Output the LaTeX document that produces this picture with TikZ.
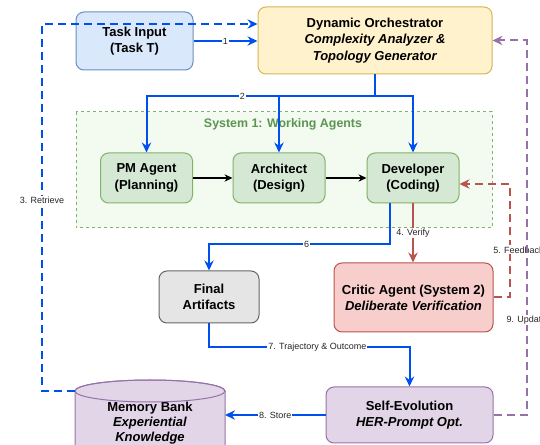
\documentclass[tikz,border=0pt]{standalone}
\usepackage{fontspec}
\setmainfont{Liberation Sans}
\usetikzlibrary{arrows.meta}

\definecolor{flowblue}{HTML}{0050EF}
\definecolor{critred}{HTML}{B85450}
\definecolor{evopurple}{HTML}{9673A6}
\definecolor{agentgreen}{HTML}{82B366}
\definecolor{titlegreen}{HTML}{5C9452}

\tikzset{
  box/.style={draw, rounded corners=6pt, line width=0.75pt, align=center, inner sep=0pt,
    font=\bfseries\fontsize{9.75}{12.2}\selectfont},
  inputbox/.style={box, fill={rgb,255:red,218;green,232;blue,252}, draw={rgb,255:red,108;green,142;blue,191}},
  orchbox/.style={box, fill={rgb,255:red,255;green,242;blue,204}, draw={rgb,255:red,214;green,182;blue,86}},
  agentbox/.style={box, fill={rgb,255:red,213;green,232;blue,212}, draw=agentgreen, minimum width=69pt, minimum height=37.5pt},
  lbl/.style={fill=white, inner sep=0.8pt, text=black!85, font=\fontsize{6.75}{8}\selectfont},
  flow/.style={draw=flowblue, line width=1.5pt, -{Stealth[length=7.5pt, width=7pt, inset=2.5pt]}},
  flowdash/.style={flow, dash pattern=on 6pt off 3.75pt},
  critflow/.style={flow, draw=critred},
  evoflow/.style={flow, draw=evopurple},
  plainflow/.style={draw=black, line width=1pt, -{Stealth[length=6pt, width=5.5pt, inset=2pt]}}
}

\begin{document}
\begin{tikzpicture}[x=0.75pt, y=-0.75pt]
  \useasboundingbox (0,0) rectangle (540,445);
  \clip (0,0) rectangle (540,445);

  % system 1 frame
  \draw[draw=agentgreen, fill={rgb,255:red,243;green,250;blue,240}, line width=0.75pt, dash pattern=on 2.25pt off 2.25pt] (76,112) rectangle (492,228);
  \node[text=titlegreen, font=\bfseries\fontsize{9.3}{11}\selectfont] (systitle) at (283,124) {System 1: Working Agents};

  % boxes
  \node[inputbox, minimum width=87.75pt, minimum height=43.5pt] (task) at (134.5,41) {Task Input\\(Task T)};
  \node[orchbox, minimum width=175.5pt, minimum height=50.25pt] (orch) at (375,40.5) {Dynamic Orchestrator\\\textit{Complexity Analyzer \&}\\\textit{Topology Generator}};
  \node[agentbox] (pm) at (146.5,178) {PM Agent\\(Planning)};
  \node[agentbox] (arch) at (279,178) {Architect\\(Design)};
  \node[agentbox] (dev) at (413,178) {Developer\\(Coding)};
  \node[box, fill=black!10, draw=black!60, minimum width=75pt, minimum height=39pt] (final) at (209,297) {Final\\Artifacts};
  \node[box, fill={rgb,255:red,248;green,206;blue,204}, draw=critred, minimum width=119.25pt, minimum height=51.75pt] (critic) at (413.5,297.5) {Critic Agent (System 2)\\\textit{Deliberate Verification}};
  \node[box, fill={rgb,255:red,225;green,213;blue,231}, draw=evopurple, minimum width=125.25pt, minimum height=42pt] (selfevo) at (409.5,415) {Self-Evolution\\\textit{HER-Prompt Opt.}};

  % memory bank cylinder
  \begin{scope}[shift={(150,391)}, x=1pt, y=1pt]
    \filldraw[fill={rgb,255:red,225;green,213;blue,231}, draw=evopurple, line width=0.75pt]
      (-56.25,0) -- (-56.25,-56.25) arc[start angle=180, end angle=360, x radius=56.25, y radius=8.25]
      -- (56.25,0) arc[start angle=0, end angle=180, x radius=56.25, y radius=8.25] -- cycle;
    \draw[draw=evopurple, line width=0.75pt] (0,0) ellipse[x radius=56.25, y radius=8.25];
  \end{scope}
  \node[align=center, font=\bfseries\fontsize{9.75}{11.3}\selectfont] (mem) at (150,423) {Memory Bank\\\textit{Experiential}\\\textit{Knowledge}};
  \coordinate (memL) at (75,391);
  \coordinate (memR) at (225,413);
  \coordinate (ret) at (42,24);

  % connectors
  \draw[flow] (task.east) -- node[lbl]{1} (task.east -| orch.west);
  \draw[flowdash] (memL) -| node[lbl, pos=0.76]{3. Retrieve} (ret) -- (ret -| orch.west);
  \draw[draw=flowblue, line width=1.5pt] (orch.south) -- ++(0,22) coordinate (split);
  \draw[flow] (split) -| node[lbl, pos=0.29]{2} (pm.north);
  \draw[flow] (split) -| (arch.north);
  \draw[flow] (split) -| (dev.north);
  \draw[plainflow] (pm) -- (arch);
  \draw[plainflow] (arch) -- (dev);
  \draw[flow] ([xshift=-17.25pt]dev.south) -- ++(0,41) -| node[lbl, pos=0.23]{6} (final.north);
  \draw[critflow] (dev.south) -- node[lbl]{4. Verify} (dev.south |- critic.north);
  \draw[critflow, dash pattern=on 6pt off 3.75pt] (critic.east) -- ++(16,0) |- node[lbl, pos=0.21, xshift=6.75pt]{5. Feedback} ([yshift=-4.5pt]dev.east);
  \draw[flow] (final.south) -- ++(0,24) -| node[lbl, pos=0.27]{7. Trajectory \& Outcome} (selfevo.north);
  \draw[flow] (selfevo.west) -- node[lbl]{8. Store} (selfevo.west -| memR);
  \draw[evoflow, dash pattern=on 6pt off 3.75pt] (selfevo.east) -- ++(33,0) |- node[lbl, pos=0.127]{9. Update} (orch.east);
\end{tikzpicture}
\end{document}
